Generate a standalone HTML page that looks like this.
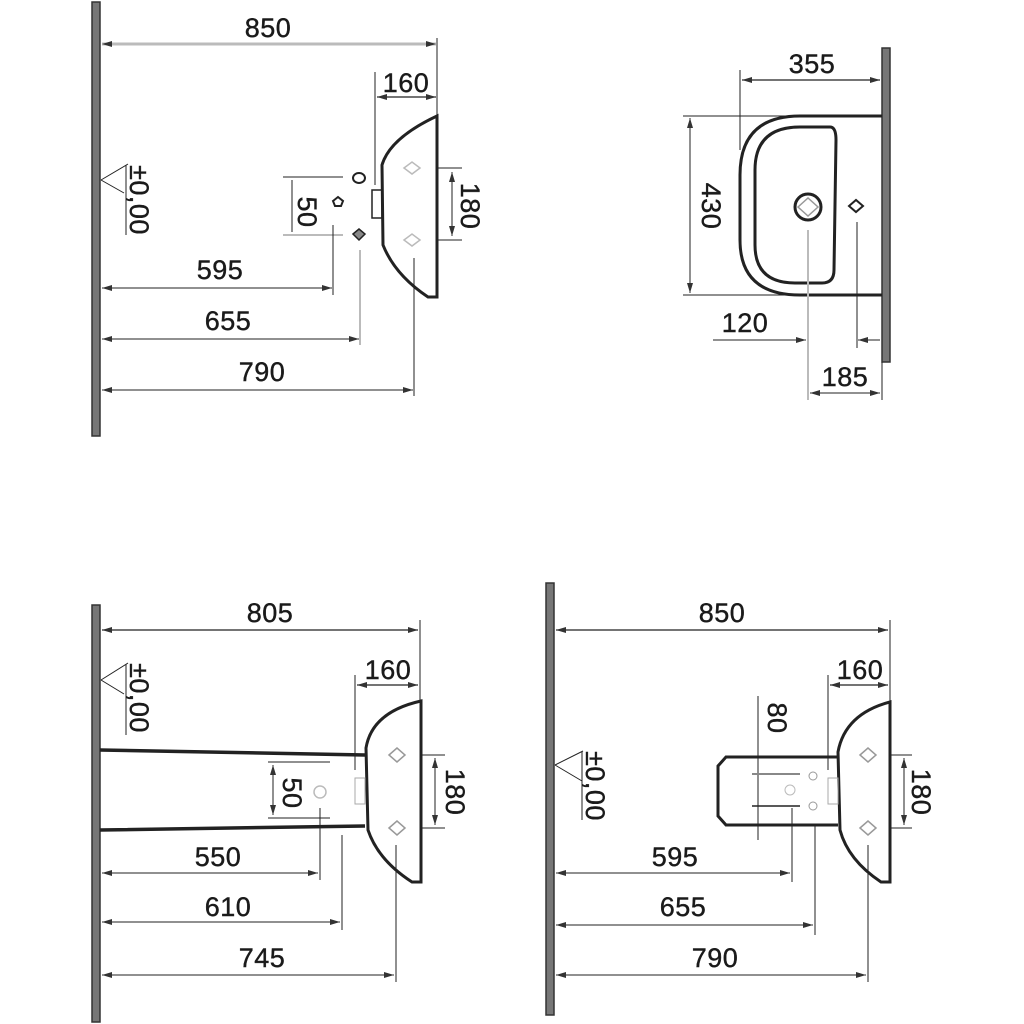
<!DOCTYPE html>
<html><head><meta charset="utf-8"><style>
html,body{margin:0;padding:0;background:#fff;width:1024px;height:1024px;overflow:hidden}
svg text{font-family:"Liberation Sans",sans-serif;font-size:27px;fill:#1a1a1a;stroke:#1a1a1a;stroke-width:0.4;letter-spacing:0.5px}
</style></head><body>
<svg width="1024" height="1024" viewBox="0 0 1024 1024" xmlns="http://www.w3.org/2000/svg">
<defs>
<marker id="a" viewBox="0 0 10 6" refX="10" refY="3" markerWidth="10" markerHeight="6" orient="auto-start-reverse" markerUnits="userSpaceOnUse"><path d="M0,0 L10,3 L0,6 z" fill="#333"/></marker>
</defs>
<g stroke="#222" fill="none">
<rect x="92" y="2" width="8" height="434" fill="#777" stroke="#333" stroke-width="1.5"/>
<line x1="102" y1="44" x2="436" y2="44" stroke="#bbb" stroke-width="3" marker-start="url(#a)" marker-end="url(#a)"/>
<line x1="437" y1="38" x2="437" y2="115" stroke-width="1"/>
<line x1="375" y1="72" x2="375" y2="185" stroke-width="1"/>
<line x1="377" y1="97" x2="436" y2="97" stroke-width="1.2" marker-start="url(#a)" marker-end="url(#a)"/>
<path d="M437,116 L437,297 L428,297 Q395,275 383,245 L382,165 Q390,138 437,116 Z" stroke-width="3"/>
<rect x="372" y="190" width="10" height="28" stroke-width="1.5"/>
<line x1="437" y1="168" x2="462" y2="168" stroke-width="1"/>
<line x1="437" y1="240" x2="462" y2="240" stroke-width="1"/>
<line x1="452" y1="172" x2="452" y2="236" stroke-width="1" marker-start="url(#a)" marker-end="url(#a)"/>
<line x1="283" y1="177" x2="343" y2="177" stroke-width="1"/>
<line x1="283" y1="235" x2="343" y2="235" stroke="#bbb" stroke-width="2"/>
<line x1="292" y1="180" x2="292" y2="232" stroke-width="1"/>
<ellipse cx="359" cy="178" rx="6" ry="5" stroke-width="2"/>
<path d="M333,201 l5,-4 l5,4 l-2,5 h-6z" stroke-width="2"/>
<path d="M353,234 l6,-5 l6,5 l-6,6z" fill="#888" stroke-width="1.5"/>
<line x1="333" y1="225" x2="333" y2="295" stroke-width="1"/>
<line x1="360" y1="250" x2="360" y2="345" stroke="#bbb" stroke-width="2"/>
<line x1="414" y1="258" x2="414" y2="396" stroke-width="1"/>
<line x1="102" y1="288" x2="332" y2="288" stroke-width="1" marker-start="url(#a)" marker-end="url(#a)"/>
<line x1="102" y1="339" x2="359" y2="339" stroke-width="1" marker-start="url(#a)" marker-end="url(#a)"/>
<line x1="102" y1="390" x2="413" y2="390" stroke-width="1" marker-start="url(#a)" marker-end="url(#a)"/>
<path d="M101,180 L128,164 M101,180 L124,193" stroke-width="1"/>
<line x1="126" y1="165" x2="126" y2="235" stroke-width="1"/>
<path d="M404,168 l8,-6 l8,6 l-8,6z M404,240 l8,-6 l8,6 l-8,6z" stroke="#bbb" stroke-width="1.5"/>

<rect x="882" y="48" width="8" height="314" fill="#777" stroke="#333" stroke-width="1.5"/>
<line x1="740" y1="70" x2="740" y2="150" stroke-width="1"/>
<line x1="742" y1="80" x2="880" y2="80" stroke-width="1.2" marker-start="url(#a)" marker-end="url(#a)"/>
<line x1="683" y1="116" x2="882" y2="116" stroke-width="1"/>
<line x1="683" y1="295" x2="882" y2="295" stroke-width="1"/>
<line x1="690" y1="118" x2="690" y2="293" stroke-width="1" marker-start="url(#a)" marker-end="url(#a)"/>
<path d="M882,116 L800,116 Q740,116 740,175 L740,240 Q740,295 800,295 L882,295" stroke-width="3"/>
<path d="M830,127 Q836,127 836,140 L834,270 Q834,283 822,283 L795,283 Q755,283 755,245 L755,170 Q755,127 800,127 Z" stroke-width="3"/>
<circle cx="808" cy="207" r="13" stroke-width="3"/>
<path d="M798,207 l10,-9 l10,9 l-10,9z" stroke="#999" stroke-width="1.5"/>
<path d="M849,206 l7,-6 l7,6 l-7,6z" stroke-width="2"/>
<line x1="808" y1="230" x2="808" y2="400" stroke="#bbb" stroke-width="2"/>
<line x1="857" y1="222" x2="857" y2="348" stroke-width="1"/>
<line x1="713" y1="340" x2="806" y2="340" stroke-width="1" marker-end="url(#a)"/>
<line x1="858" y1="340" x2="880" y2="340" stroke-width="1" marker-start="url(#a)"/>
<line x1="810" y1="393" x2="880" y2="393" stroke-width="1" marker-start="url(#a)" marker-end="url(#a)"/>
<line x1="882" y1="362" x2="882" y2="400" stroke-width="1"/>

<rect x="92" y="605" width="8" height="417" fill="#777" stroke="#333" stroke-width="1.5"/>
<line x1="102" y1="630" x2="418" y2="630" stroke-width="1.2" marker-start="url(#a)" marker-end="url(#a)"/>
<line x1="420" y1="620" x2="420" y2="700" stroke-width="1"/>
<line x1="355" y1="675" x2="355" y2="770" stroke-width="1"/>
<line x1="357" y1="685" x2="418" y2="685" stroke-width="1.2" marker-start="url(#a)" marker-end="url(#a)"/>
<path d="M100,750 L365,755 M100,830 L365,826" stroke-width="3.5"/>
<path d="M421,701 L421,882 L412,882 Q378,860 368,830 L366,748 Q372,712 421,701 Z" stroke-width="3"/>
<rect x="355" y="778" width="10" height="26" stroke="#aaa" stroke-width="1"/>
<line x1="420" y1="755" x2="445" y2="755" stroke-width="1"/>
<line x1="420" y1="828" x2="445" y2="828" stroke-width="1"/>
<line x1="435" y1="758" x2="435" y2="825" stroke-width="1" marker-start="url(#a)" marker-end="url(#a)"/>
<line x1="268" y1="762" x2="330" y2="762" stroke-width="1"/>
<line x1="268" y1="818" x2="330" y2="818" stroke-width="1"/>
<line x1="273" y1="765" x2="273" y2="815" stroke-width="1" marker-start="url(#a)" marker-end="url(#a)"/>
<line x1="320" y1="808" x2="320" y2="880" stroke-width="1"/>
<line x1="342" y1="835" x2="342" y2="930" stroke-width="1"/>
<line x1="396" y1="845" x2="396" y2="982" stroke-width="1"/>
<line x1="102" y1="873" x2="318" y2="873" stroke-width="1" marker-start="url(#a)" marker-end="url(#a)"/>
<line x1="102" y1="922" x2="340" y2="922" stroke-width="1" marker-start="url(#a)" marker-end="url(#a)"/>
<line x1="102" y1="975" x2="394" y2="975" stroke-width="1" marker-start="url(#a)" marker-end="url(#a)"/>
<path d="M101,680 L128,663 M101,680 L124,694" stroke-width="1"/>
<line x1="126" y1="664" x2="126" y2="735" stroke-width="1"/>
<path d="M389,755 l8,-7 l8,7 l-8,7z M389,828 l8,-7 l8,7 l-8,7z" stroke="#999" stroke-width="1.5"/>
<circle cx="320" cy="792" r="6" stroke="#bbb" stroke-width="1.5"/>

<rect x="546" y="583" width="8" height="432" fill="#777" stroke="#333" stroke-width="1.5"/>
<line x1="556" y1="630" x2="888" y2="630" stroke-width="1.2" marker-start="url(#a)" marker-end="url(#a)"/>
<line x1="890" y1="620" x2="890" y2="705" stroke-width="1"/>
<line x1="828" y1="675" x2="828" y2="770" stroke-width="1"/>
<line x1="830" y1="685" x2="888" y2="685" stroke-width="1.2" marker-start="url(#a)" marker-end="url(#a)"/>
<path d="M890,702 L890,882 L881,882 Q848,860 840,830 L838,752 Q845,714 890,702 Z" stroke-width="3"/>
<path d="M838,757 L726,757 L718,766 L718,816 L726,825 L838,825" stroke-width="3"/>
<rect x="828" y="778" width="10" height="26" stroke="#aaa" stroke-width="1"/>
<line x1="758" y1="696" x2="758" y2="840" stroke-width="1"/>
<line x1="752" y1="774" x2="800" y2="774" stroke="#888" stroke-width="2"/>
<line x1="752" y1="806" x2="800" y2="806" stroke-width="1.5"/>
<circle cx="813" cy="776" r="4" stroke="#999"/><circle cx="813" cy="806" r="4" stroke="#999"/><circle cx="790" cy="790" r="5" stroke="#bbb"/>
<line x1="890" y1="755" x2="912" y2="755" stroke-width="1"/>
<line x1="890" y1="828" x2="912" y2="828" stroke-width="1"/>
<line x1="904" y1="758" x2="904" y2="825" stroke-width="1" marker-start="url(#a)" marker-end="url(#a)"/>
<line x1="792" y1="808" x2="792" y2="882" stroke-width="1"/>
<line x1="815" y1="826" x2="815" y2="935" stroke-width="1"/>
<line x1="868" y1="845" x2="868" y2="982" stroke-width="1"/>
<line x1="556" y1="873" x2="790" y2="873" stroke-width="1" marker-start="url(#a)" marker-end="url(#a)"/>
<line x1="556" y1="925" x2="813" y2="925" stroke-width="1" marker-start="url(#a)" marker-end="url(#a)"/>
<line x1="556" y1="975" x2="866" y2="975" stroke-width="1" marker-start="url(#a)" marker-end="url(#a)"/>
<path d="M555,765 L583,751 M555,765 L582,781" stroke-width="1"/>
<line x1="582" y1="752" x2="582" y2="820" stroke-width="1"/>
<path d="M860,755 l8,-7 l8,7 l-8,7z M860,828 l8,-7 l8,7 l-8,7z" stroke="#999" stroke-width="1.5"/>
</g>

<text x="268" y="37" text-anchor="middle">850</text>
<text x="406" y="92" text-anchor="middle">160</text>
<text x="220" y="279" text-anchor="middle">595</text>
<text x="228" y="330" text-anchor="middle">655</text>
<text x="262" y="381" text-anchor="middle">790</text>
<text transform="translate(130,200) rotate(90)" text-anchor="middle" font-size="24">±0,00</text>
<text transform="translate(298,212) rotate(90)" text-anchor="middle">50</text>
<text transform="translate(461,206) rotate(90)" text-anchor="middle">180</text>

<text x="812" y="73" text-anchor="middle">355</text>
<text transform="translate(702,206) rotate(90)" text-anchor="middle">430</text>
<text x="745" y="332" text-anchor="middle">120</text>
<text x="845" y="386" text-anchor="middle">185</text>

<text x="270" y="622" text-anchor="middle">805</text>
<text x="388" y="679" text-anchor="middle">160</text>
<text x="218" y="866" text-anchor="middle">550</text>
<text x="228" y="916" text-anchor="middle">610</text>
<text x="262" y="967" text-anchor="middle">745</text>
<text transform="translate(130,698) rotate(90)" text-anchor="middle" font-size="24">±0,00</text>
<text transform="translate(283,793) rotate(90)" text-anchor="middle">50</text>
<text transform="translate(446,792) rotate(90)" text-anchor="middle">180</text>

<text x="722" y="622" text-anchor="middle">850</text>
<text x="860" y="679" text-anchor="middle">160</text>
<text x="675" y="866" text-anchor="middle">595</text>
<text x="683" y="916" text-anchor="middle">655</text>
<text x="715" y="967" text-anchor="middle">790</text>
<text transform="translate(586,786) rotate(90)" text-anchor="middle" font-size="24">±0,00</text>
<text transform="translate(768,718) rotate(90)" text-anchor="middle">80</text>
<text transform="translate(912,792) rotate(90)" text-anchor="middle">180</text>
</svg>
</body></html>
